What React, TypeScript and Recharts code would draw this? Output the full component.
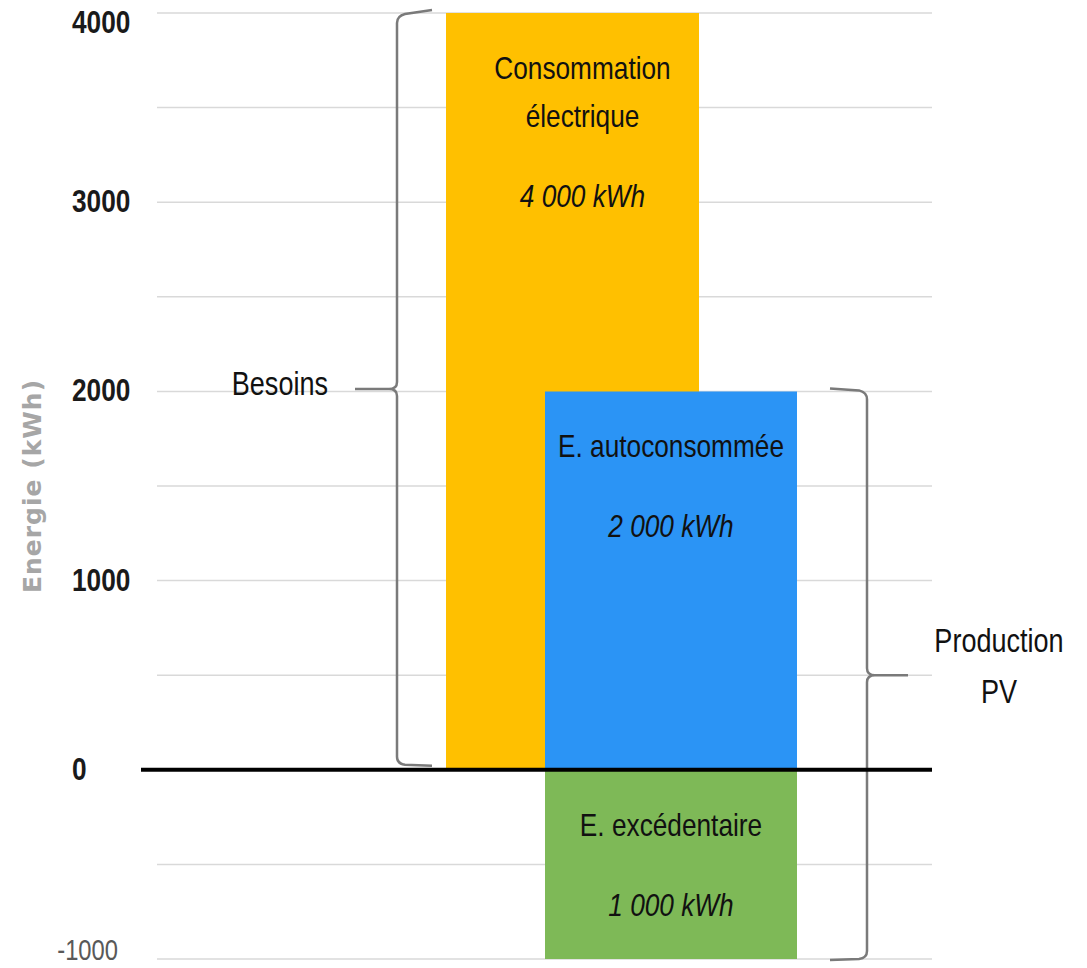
import React from 'react';
import { BarChart, Bar, XAxis, YAxis, CartesianGrid, ReferenceLine, ReferenceArea, LabelList, Label } from 'recharts';

const categories = ['Bilan annuel'];
const consommation = [4000];
const autoconsommee = [2000];
const excedentaire = [-1000];

const yTicks = [-1000, -500, 0, 500, 1000, 1500, 2000, 2500, 3000, 3500, 4000];
const yTickLabels = ['-1000', '', '0', '', '1000', '', '2000', '', '3000', '', '4000'];

const consoTitle = ['Consommation', 'électrique'];
const autoTitle = ['E. autoconsommée'];
const excTitle = ['E. excédentaire'];

const besoinsLabel = ['Besoins'];
const besoinsRange = [0, 4000];
const productionLabel = ['Production', 'PV'];
const productionRange = [-1000, 2000];

const data = categories.map((name, i) => ({
  name,
  conso: consommation[i],
  auto: autoconsommee[i],
  exc: excedentaire[i],
}));

const BRACE = '#7a7a7a';

const kwh = (v: number) => String(Math.abs(v)).replace(/\B(?=(\d{3})+(?!\d))/g, ' ') + ' kWh';

// texte "etroit" : Liberation Sans compresse horizontalement
const NText = (p: any) => {
  const { x, y, anchor = 'middle', size = 31, weight = 'normal', italic = false, fill = '#111', children } = p;
  return (
    <text
      transform={`translate(${x} ${y}) scale(0.82 1)`}
      textAnchor={anchor}
      fontFamily="'Liberation Sans', Arial, sans-serif"
      fontSize={size}
      fontWeight={weight}
      fontStyle={italic ? 'italic' : 'normal'}
      fill={fill}
    >
      {children}
    </text>
  );
};

const YTick = (props: any) => {
  const { x, y, payload } = props;
  const i = yTicks.indexOf(payload.value);
  const text = yTickLabels[i];
  if (!text) return <g />;
  if (payload.value < 0) {
    return (
      <NText x={x - 39} y={y + 1} anchor="end" size={29} fill="#595959">
        {text}
      </NText>
    );
  }
  const dy = i === yTicks.length - 1 ? 20 : 10;
  return (
    <NText x={x - 85} y={y + dy} anchor="start" size={32} weight="bold" fill="#1a1a1a">
      {text}
    </NText>
  );
};

const YTitle = (props: any) => {
  const { viewBox } = props;
  const cx = viewBox.x + 41;
  const cy = viewBox.y + viewBox.height / 2;
  return (
    <text
      x={cx}
      y={cy}
      transform={`rotate(-90, ${cx}, ${cy})`}
      textAnchor="middle"
      fontFamily="'DejaVu Sans', sans-serif"
      fontSize={25}
      fontWeight="bold"
      letterSpacing={1}
      fill="#a6a6a6"
    >
      Energie (kWh)
    </text>
  );
};

const barText = (title: string[], dx: number) => (props: any) => {
  const { x, y, width, height, value } = props;
  const top = Math.min(y, y + height);
  const cx = x + width / 2 + dx;
  return (
    <g>
      {title.map((t, k) => (
        <NText key={k} x={cx} y={top + 66 + k * 48} size={32}>
          {t}
        </NText>
      ))}
      <NText x={cx} y={top + 66 + (title.length - 1) * 48 + 80} size={32} italic>
        {kwh(value)}
      </NText>
    </g>
  );
};

// accolade ouverte vers la droite, pointe a gauche
const LeftBrace = (props: any) => {
  const { x, y, height } = props;
  const bx = x - 49;
  const t = y;
  const b = y + height - 5;
  const m = (t + b) / 2;
  const d = `M ${bx + 35} ${t - 3} L ${bx + 8} ${t + 1} Q ${bx} ${t + 3} ${bx} ${t + 10}
    L ${bx} ${m - 7} Q ${bx} ${m} ${bx - 8} ${m} L ${bx - 42} ${m}
    M ${bx - 8} ${m} Q ${bx} ${m} ${bx} ${m + 7}
    L ${bx} ${b - 8} Q ${bx} ${b - 1} ${bx + 8} ${b} L ${bx + 35} ${b + 1}`;
  return (
    <g>
      <path d={d} fill="none" stroke={BRACE} strokeWidth={2.5} />
      {besoinsLabel.map((l, k) => (
        <NText key={k} x={bx - 69} y={m + 6 + k * 50} anchor="end" size={33}>
          {l}
        </NText>
      ))}
    </g>
  );
};

// accolade ouverte vers la gauche, pointe a droite
const RightBrace = (props: any) => {
  const { x, y, width, height } = props;
  const bx = x + width + 70;
  const t = y;
  const b = y + height;
  const m = (t + b) / 2;
  const d = `M ${bx - 37} ${t - 3} L ${bx - 8} ${t - 1} Q ${bx} ${t + 1} ${bx} ${t + 8}
    L ${bx} ${m - 7} Q ${bx} ${m} ${bx + 8} ${m} L ${bx + 41} ${m}
    M ${bx + 8} ${m} Q ${bx} ${m} ${bx} ${m + 7}
    L ${bx} ${b - 8} Q ${bx} ${b - 1} ${bx - 8} ${b} L ${bx - 37} ${b + 1}`;
  return (
    <g>
      <path d={d} fill="none" stroke={BRACE} strokeWidth={2.5} />
      {productionLabel.map((l, k) => (
        <NText key={k} x={bx + 132} y={m - 23 + k * 51} size={33}>
          {l}
        </NText>
      ))}
    </g>
  );
};

const ZeroLine = (props: any) => {
  const { x1, y1, x2, y2 } = props;
  return <line x1={x1 - 16} y1={y1} x2={x2} y2={y2} stroke="#000" strokeWidth={4} />;
};

export default function App() {
  return (
    <div style={{ position: 'absolute', left: 0, top: 0, width: 1087, height: 968, background: '#fff' }}>
      <BarChart
        width={1087}
        height={968}
        data={data}
        margin={{ top: 13, right: 155, bottom: 9, left: 0 }}
        barCategoryGap={0}
        barGap={0}
        stackOffset="sign"
      >
        <CartesianGrid xAxisId="a" vertical={false} stroke="#d9d9d9" strokeWidth={1.5} />
        <XAxis xAxisId="a" dataKey="name" hide padding={{ left: 289, right: 233 }} />
        <XAxis xAxisId="b" dataKey="name" hide padding={{ left: 388, right: 135 }} />
        <YAxis
          type="number"
          width={157}
          domain={[-1000, 4000]}
          ticks={yTicks}
          interval={0}
          axisLine={false}
          tickLine={false}
          tickSize={0}
          tickMargin={0}
          tick={<YTick />}
          allowDataOverflow
        >
          <Label content={<YTitle />} />
        </YAxis>
        <Bar xAxisId="a" dataKey="conso" fill="#FFC000" isAnimationActive={false}>
          <LabelList dataKey="conso" content={barText(consoTitle, 10)} />
        </Bar>
        <Bar xAxisId="b" dataKey="auto" stackId="pv" fill="#2B94F5" isAnimationActive={false}>
          <LabelList dataKey="auto" content={barText(autoTitle, 0)} />
        </Bar>
        <Bar xAxisId="b" dataKey="exc" stackId="pv" fill="#7EB957" isAnimationActive={false}>
          <LabelList dataKey="exc" content={barText(excTitle, 0)} />
        </Bar>
        <ReferenceLine xAxisId="a" y={0} shape={<ZeroLine />} />
        <ReferenceArea xAxisId="a" y1={besoinsRange[0]} y2={besoinsRange[1]} shape={<LeftBrace />} />
        <ReferenceArea xAxisId="b" y1={productionRange[0]} y2={productionRange[1]} shape={<RightBrace />} />
      </BarChart>
    </div>
  );
}
